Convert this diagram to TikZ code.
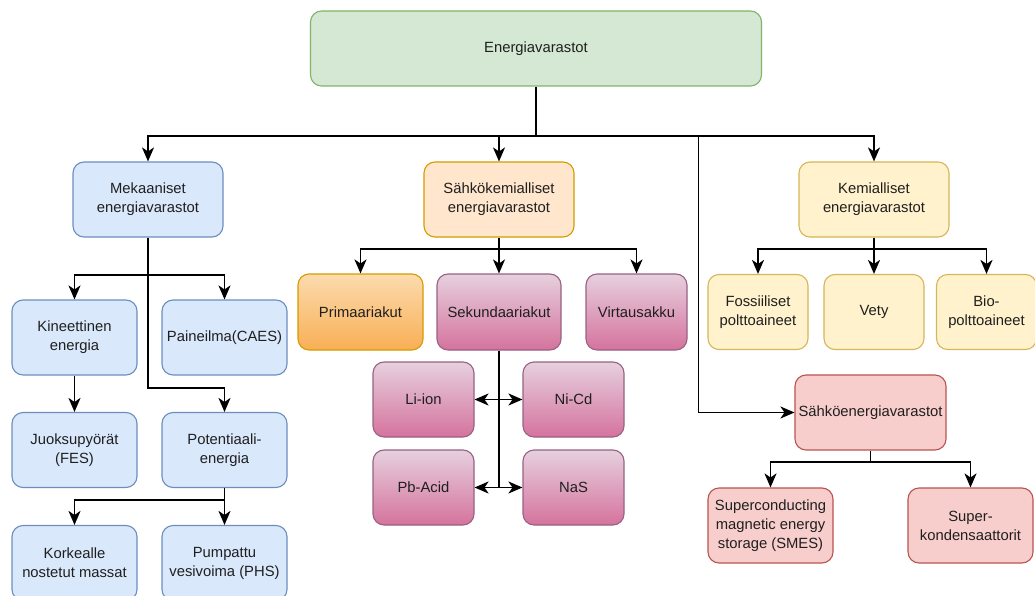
\documentclass[tikz,border=0pt]{standalone}
\usepackage{fontspec}
\setmainfont{Liberation Sans}
\usetikzlibrary{arrows.meta}

\definecolor{grfill}{HTML}{D5E8D4}\definecolor{grline}{HTML}{82B366}
\definecolor{blfill}{HTML}{DAE8FC}\definecolor{blline}{HTML}{6C8EBF}
\definecolor{orfill}{HTML}{FFE6CC}\definecolor{orline}{HTML}{D79B00}
\definecolor{ortop}{HTML}{FCDBAE}\definecolor{orbot}{HTML}{F8AF55}
\definecolor{pktop}{HTML}{E6D0DE}\definecolor{pkbot}{HTML}{D5739D}\definecolor{pkline}{HTML}{996185}
\definecolor{yefill}{HTML}{FFF2CC}\definecolor{yeline}{HTML}{D6B656}
\definecolor{rdfill}{HTML}{F8CECC}\definecolor{rdline}{HTML}{B85450}

\tikzset{
  box/.style={rounded corners=11pt, inner sep=0pt, align=center, line width=1.1pt,
    font=\fontsize{14.8}{19}\selectfont, text=black!88},
  green/.style={box, fill=grfill, draw=grline},
  blue/.style={box, fill=blfill, draw=blline, minimum width=125pt, minimum height=75pt},
  peach/.style={box, fill=orfill, draw=orline},
  orange/.style={box, top color=ortop, bottom color=orbot, draw=orline},
  pink/.style={box, top color=pktop, bottom color=pkbot, draw=pkline},
  yellow/.style={box, fill=yefill, draw=yeline, minimum width=100pt, minimum height=75pt},
  red/.style={box, fill=rdfill, draw=rdline},
  link/.style={line width=1.8pt, black},
  arr/.style={link, -{Stealth[length=14pt, width=12pt, inset=4pt]}},
  darr/.style={link, {Stealth[length=14pt, width=12pt, inset=4pt]}-{Stealth[length=14pt, width=12pt, inset=4pt]}}
}

\begin{document}
\begin{tikzpicture}[x=1pt, y=-1pt]
\clip (0,0) rectangle (1035,596);
\fill[white] (0,0) rectangle (1035,596);

% root
\node[green, minimum width=451pt, minimum height=75pt] (root) at (536,48.5) {Energiavarastot};

% mechanical branch
\node[blue, minimum width=150pt] (mek) at (148,199.5) {Mekaaniset\\energiavarastot};
\node[blue] (kin) at (74.5,337.5) {Kineettinen\\energia};
\node[blue] (pai) at (224.5,337.5) {Paineilma(CAES)};
\node[blue] (juo) at (74.5,450) {Juoksupyörät\\(FES)};
\node[blue] (pot) at (224.5,450) {Potentiaali-\\energia};
\node[blue] (kor) at (74.5,563) {Korkealle\\nostetut massat};
\node[blue] (pum) at (224.5,563) {Pumpattu\\vesivoima (PHS)};

% electrochemical branch
\node[peach, minimum width=150pt, minimum height=75pt] (skem) at (499,199.5) {Sähkökemialliset\\energiavarastot};
\node[orange, minimum width=125pt, minimum height=76pt] (pri) at (360.5,312) {Primaariakut};
\node[pink, minimum width=124pt, minimum height=76pt] (sek) at (499,312) {Sekundaariakut};
\node[pink, minimum width=101pt, minimum height=76pt] (vir) at (636.5,312) {Virtausakku};
\node[pink, minimum width=101pt, minimum height=75pt] (li) at (423.5,399.5) {Li-ion};
\node[pink, minimum width=101pt, minimum height=75pt] (ni) at (573.5,399.5) {Ni-Cd};
\node[pink, minimum width=101pt, minimum height=75pt] (pb) at (423.5,487.5) {Pb-Acid};
\node[pink, minimum width=101pt, minimum height=75pt] (nas) at (573.5,487.5) {NaS};

% chemical branch
\node[yellow, minimum width=150pt] (kem) at (874,199.5) {Kemialliset\\energiavarastot};
\node[yellow] (fos) at (758,312) {Fossiiliset\\polttoaineet};
\node[yellow] (vet) at (874,312) {Vety};
\node[yellow] (bio) at (986.5,312) {Bio-\\polttoaineet};

% electrical branch
\node[red, minimum width=151pt, minimum height=75pt] (sen) at (870.5,412.5) {Sähköenergiavarastot};
\node[red, minimum width=125pt, minimum height=75pt] (smes) at (770.5,525.5) {Superconducting\\magnetic energy\\storage (SMES)};
\node[red, minimum width=125pt, minimum height=75pt] (sup) at (970.5,525.5) {Super-\\kondensaattorit};

% junction points
\coordinate (rb) at (536,136);
\coordinate (eturn) at (698.5,136);
\coordinate (mb) at (148,275);
\coordinate (mturn) at (148,388);
\coordinate (pbus) at (224.5,500);
\coordinate (sb) at (499,249);
\coordinate (send) at (499,488);
\coordinate (kb) at (874,249);
\coordinate (eb) at (870.5,462);

% root connectors
\draw[link] (root.south) -- (rb);
\draw[arr] (rb) -| (mek.north);
\draw[arr] (rb) -| (skem.north);
\draw[arr] (rb) -| (kem.north);
\draw[arr] (eturn) |- (sen.west);

% mechanical connectors
\draw[link] (mek.south) -- (mb);
\draw[arr] (mb) -| (kin.north);
\draw[arr] (mb) -| (pai.north);
\draw[arr] (mb) -- (mturn) -| (pot.north);
\draw[arr] (kin) -- (juo);
\draw[link] (pot.south) -- (pbus);
\draw[arr] (pbus) -| (kor.north);
\draw[arr] (pbus) -- (pum.north);

% electrochemical connectors
\draw[link] (skem.south) -- (sb);
\draw[arr] (sb) -| (pri.north);
\draw[arr] (sb) -- (sek.north);
\draw[arr] (sb) -| (vir.north);
\draw[link] (sek.south) -- (send);
\draw[darr] (li) -- (ni);
\draw[darr] (pb) -- (nas);

% chemical connectors
\draw[link] (kem.south) -- (kb);
\draw[arr] (kb) -| (fos.north);
\draw[arr] (kb) -- (vet.north);
\draw[arr] (kb) -| (bio.north);

% electrical connectors
\draw[link] (sen.south) -- (eb);
\draw[arr] (eb) -| (smes.north);
\draw[arr] (eb) -| (sup.north);
\end{tikzpicture}
\end{document}
